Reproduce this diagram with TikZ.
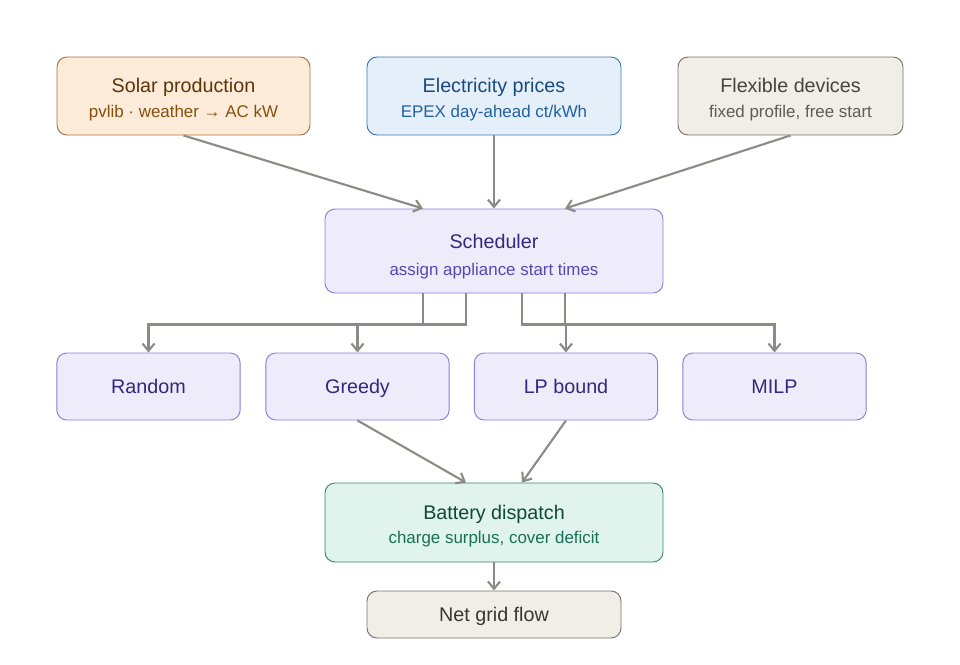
\documentclass[tikz,border=0pt]{standalone}
\usepackage{fontspec}
\setmainfont{Liberation Sans}
\usepackage{tikz}
\usetikzlibrary{arrows.meta, positioning, calc}

\definecolor{solFill}{HTML}{FBEBD8}
\definecolor{solLine}{HTML}{A8743A}
\definecolor{solHead}{HTML}{5C3508}
\definecolor{solSub}{HTML}{85500F}
\definecolor{prcFill}{HTML}{E4EFFA}
\definecolor{prcLine}{HTML}{3A76B0}
\definecolor{prcHead}{HTML}{1A4A7A}
\definecolor{prcSub}{HTML}{2360A0}
\definecolor{devFill}{HTML}{F1EEE8}
\definecolor{devLine}{HTML}{75736B}
\definecolor{devHead}{HTML}{454540}
\definecolor{devSub}{HTML}{5C5C57}
\definecolor{schFill}{HTML}{EEECFB}
\definecolor{schLine}{HTML}{8A7FD6}
\definecolor{schHead}{HTML}{33287A}
\definecolor{schSub}{HTML}{5548B0}
\definecolor{batFill}{HTML}{E0F3EC}
\definecolor{batLine}{HTML}{3A8A6C}
\definecolor{batHead}{HTML}{0F4A35}
\definecolor{batSub}{HTML}{187055}
\definecolor{flowGray}{HTML}{8C8C86}

\newcommand{\headfont}{\fontsize{14.8}{18}\selectfont}
\newcommand{\subfont}{\fontsize{12.7}{18}\selectfont}

\tikzstyle{card}  = [rectangle, rounded corners=7.5pt, line width=0.7pt,
                     align=center, inner sep=0pt, font=\headfont]
\tikzstyle{arrow} = [line width=1.6pt, draw=flowGray,
                     -{Straight Barb[length=5.5pt,width=9pt]}]

\begin{document}
\begin{tikzpicture}[x=0.75pt, y=-0.75pt,
    src/.style={card, minimum width=#1, minimum height=58.5pt,
                text height=32pt, text depth=0pt},
    algo/.style={card, draw=schLine, fill=schFill, text=schHead,
                 minimum width=137.5pt, minimum height=50.25pt,
                 text height=10.6pt, text depth=0pt},
    wide/.style={card, minimum width=253.5pt, text depth=0pt}]

  \useasboundingbox (0,0) rectangle (960,664);

  % inputs
  \node[src=189.75pt, draw=solLine, fill=solFill] (solar) at (183.5,96)
    {\color{solHead}Solar production\\[0.5pt]{\subfont\color{solSub}pvlib · weather → AC kW}};
  \node[src=190.5pt, draw=prcLine, fill=prcFill] (prices) at (494,96)
    {\color{prcHead}Electricity prices\\[0.5pt]{\subfont\color{prcSub}EPEX day-ahead ct/kWh}};
  \node[src=168.75pt, draw=devLine, fill=devFill] (devices) at (790.5,96)
    {\color{devHead}Flexible devices\\[0.5pt]{\subfont\color{devSub}fixed profile, free start}};

  % scheduler
  \node[wide, minimum height=63pt, text height=36.6pt, draw=schLine, fill=schFill] (sched) at (494,251)
    {\color{schHead}Scheduler\\[2pt]{\subfont\color{schSub}assign appliance start times}};

  % strategies
  \node[algo] (random) at (148.5,386.5) {Random};
  \node[algo] (greedy) at (357.5,386.5) {Greedy};
  \node[algo] (lp)     at (566,386.5)   {LP bound};
  \node[algo] (milp)   at (774.5,386.5) {MILP};

  % battery and grid
  \node[wide, minimum height=59.25pt, text height=32pt, draw=batLine, fill=batFill] (battery) at (494,522.5)
    {\color{batHead}Battery dispatch\\[0.5pt]{\subfont\color{batSub}charge surplus, cover deficit}};
  \node[card, minimum width=190.5pt, minimum height=35.25pt, text height=10.6pt, text depth=0pt,
        draw=devLine, fill=devFill, text=devHead!80!black] (grid) at (494,614.5) {Net grid flow};

  \draw[arrow] (solar.south)   -- ($(sched.north)+(-71,0)$);
  \draw[arrow] (prices.south)  -- (sched.north);
  \draw[arrow] (devices.south) -- ($(sched.north)+(71,0)$);

  \draw[arrow] ($(sched.south)+(-71,0)$) -- ++(0,31) -| (random.north);
  \draw[arrow] ($(sched.south)+(-28,0)$) -- ++(0,31) -| (greedy.north);
  \draw[arrow] ($(sched.south)+(28,0)$)  -- ++(0,31) -| (lp.north);
  \draw[arrow] ($(sched.south)+(71,0)$)  -- ++(0,31) -| (milp.north);

  \draw[arrow] (greedy.south) -- ($(battery.north)+(-28,0)$);
  \draw[arrow] (lp.south)     -- ($(battery.north)+(28,0)$);
  \draw[arrow] (battery.south) -- (grid.north);
\end{tikzpicture}
\end{document}
